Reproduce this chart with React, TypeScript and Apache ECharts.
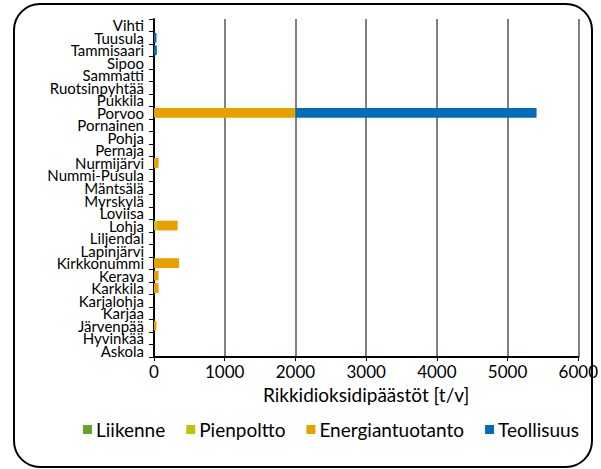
import React, { useEffect, useRef } from "react";
import * as echarts from "echarts";

const categories = [
  "Askola", "Hyvinkää", "Järvenpää", "Karjaa", "Karjalohja", "Karkkila", "Kerava",
  "Kirkkonummi", "Lapinjärvi", "Liljendal", "Lohja", "Loviisa", "Myrskylä", "Mäntsälä",
  "Nummi-Pusula", "Nurmijärvi", "Pernaja", "Pohja", "Pornainen", "Porvoo", "Pukkila",
  "Ruotsinpyhtää", "Sammatti", "Sipoo", "Tammisaari", "Tuusula", "Vihti",
];

const liikenne = [0, 0, 0, 0, 0, 0, 0, 0, 0, 0, 0, 0, 0, 0, 0, 0, 0, 0, 0, 0, 0, 0, 0, 0, 0, 0, 0];
const pienpoltto = [0, 0, 0, 0, 0, 0, 0, 0, 0, 0, 35, 0, 0, 0, 0, 0, 0, 0, 0, 0, 0, 0, 0, 0, 0, 0, 0];
const energiantuotanto = [0, 0, 35, 0, 0, 65, 65, 355, 0, 0, 300, 0, 0, 0, 0, 65, 0, 0, 0, 2000, 0, 0, 0, 0, 0, 0, 0];
const teollisuus = [0, 0, 0, 0, 0, 0, 0, 0, 0, 0, 0, 0, 0, 0, 0, 0, 0, 0, 0, 3410, 0, 0, 0, 0, 40, 35, 0];

const xTicks = [0, 1000, 2000, 3000, 4000, 5000, 6000];
const xAxisTitle = "Rikkidioksidipäästöt [t/v]";

const FONT = "Lato";

export default function App() {
  const ref = useRef<HTMLDivElement>(null);
  useEffect(() => {
    if (!ref.current) return;
    const chart = echarts.init(ref.current, undefined, { renderer: "svg" });
    const mk = (name: string, data: number[], color: string) => ({
      name,
      type: "bar",
      stack: "total",
      data,
      barWidth: "78%",
      itemStyle: { color },
      emphasis: { disabled: true },
    });
    chart.setOption({
      animation: false,
      textStyle: { fontFamily: FONT },
      graphic: [
        {
          type: "rect",
          shape: { x: 14, y: 4, width: 578, height: 463, r: 26 },
          style: { fill: "none", stroke: "#000", lineWidth: 2 },
          z: 100,
        },
      ],
      legend: {
        bottom: 25,
        left: 78,
        itemWidth: 9,
        itemHeight: 9,
        itemGap: 21,
        icon: "rect",
        textStyle: { fontFamily: FONT, fontSize: 19, color: "#000", padding: [0, 0, 0, -1] },
        data: ["Liikenne", "Pienpoltto", "Energiantuotanto", "Teollisuus"],
      },
      grid: { left: 154, right: 19, top: 19, bottom: 112, containLabel: false },
      xAxis: {
        type: "value",
        min: xTicks[0],
        max: xTicks[xTicks.length - 1],
        interval: 1000,
        name: xAxisTitle,
        nameLocation: "middle",
        nameGap: 27,
        nameTextStyle: { fontFamily: FONT, fontSize: 19, color: "#000" },
        axisLine: { show: true, lineStyle: { color: "#000", width: 2 } },
        axisTick: { show: true, length: 4, lineStyle: { color: "#000", width: 1 } },
        axisLabel: {
          fontFamily: FONT,
          fontSize: 17,
          color: "#000",
          margin: 6,
          formatter: (v: number) => String(v),
        },
        splitLine: { show: true, lineStyle: { color: "#808080", width: 2 } },
      },
      yAxis: {
        type: "category",
        data: categories,
        axisLine: { show: true, lineStyle: { color: "#000", width: 2 } },
        axisTick: { show: true, length: 5, lineStyle: { color: "#000", width: 1 } },
        axisLabel: {
          interval: 0,
          fontFamily: FONT,
          fontSize: 15,
          color: "#000",
          margin: 10,
        },
        splitLine: { show: false },
      },
      series: [
        mk("Liikenne", liikenne, "#62a52a"),
        mk("Pienpoltto", pienpoltto, "#c5c000"),
        mk("Energiantuotanto", energiantuotanto, "#e6a100"),
        mk("Teollisuus", teollisuus, "#006db4"),
      ],
    });
    return () => chart.dispose();
  }, []);
  return (
    <div
      ref={ref}
      style={{ position: "absolute", left: 0, top: 0, width: 601, height: 469 }}
    />
  );
}
